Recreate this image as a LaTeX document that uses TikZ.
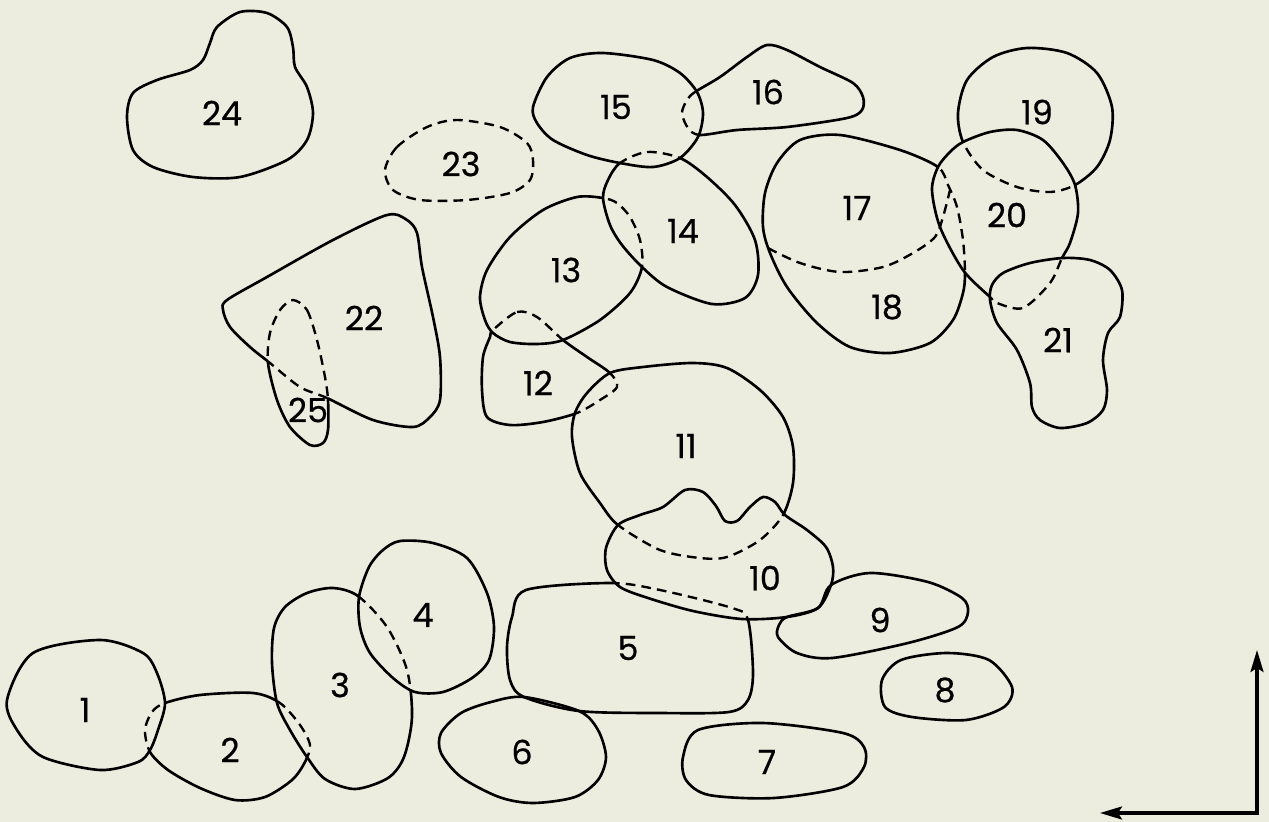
\documentclass[tikz,border=0pt]{standalone}
\usepackage{fontspec}
\setmainfont{Poppins}
\newfontfamily\tagfont{Poppins}[FakeBold=0.5]
\usepackage{tikz}
\usetikzlibrary{arrows.meta}
\usepackage{xcolor}
\definecolor{paper}{RGB}{237,237,223}
\tikzset{
  outline/.style={draw, line width=1.5pt, line join=round},
  hidden/.style={draw, line width=1.35pt, dash pattern=on 5.5pt off 3.5pt},
  tag/.style={font=\tagfont\fontsize{19}{19}\selectfont, inner sep=1pt},
  arr/.style={-{Stealth[length=4.4mm, width=2.6mm, inset=0.8mm]}, line width=1.8pt, line cap=rect},
}
% region outlines (pixel grid, y downwards)
\newcommand{\zoneone}{plot[smooth cycle] coordinates {(7,700) (33,653) (100,640) (143,653) (157,673) (165,703) (158,730) (150,750) (138,762) (100,770) (43,757) (17,730)}}
\newcommand{\zonetwo}{plot[smooth cycle] coordinates {(165,703) (200,695) (253,693) (280,703) (300,725) (310,745) (305,762) (292,780) (265,797) (235,800) (200,788) (168,770) (150,752) (145,730) (152,712)}}
\newcommand{\zonethree}{plot[smooth cycle] coordinates {(333,588) (358,596) (387,627) (407,670) (412,717) (404,757) (388,778) (355,789) (325,779) (307,757) (290,730) (277,703) (272,663) (274,628) (285,607) (307,593)}}
\newcommand{\zonefour}{plot[smooth cycle] coordinates {(400,541) (433,543) (467,558) (487,593) (494,627) (489,660) (472,678) (443,692) (415,692) (393,678) (370,653) (360,627) (359,597) (369,567) (383,550)}}
\newcommand{\zonefive}{plot[smooth cycle] coordinates {(526,590) (610,583) (660,590) (732,608) (748,620) (753,673) (748,700) (729,712) (660,713) (579,711) (524,697) (510,680) (507,647) (512,617)}}
\newcommand{\zonesix}{plot[smooth cycle] coordinates {(524,697) (579,711) (598,730) (606,757) (598,780) (575,797) (533,803) (499,797) (461,777) (441,753) (441,733) (461,713) (491,702)}}
\newcommand{\zoneseven}{plot[smooth cycle] coordinates {(698,730) (763,723) (843,733) (864,747) (864,767) (843,787) (774,798) (709,795) (686,780) (683,757)}}
\newcommand{\zoneeight}{plot[smooth cycle] coordinates {(882,680) (901,660) (947,653) (989,660) (1012,687) (1004,707) (966,720) (912,717) (885,707)}}
\newcommand{\zonenine}{plot[smooth cycle] coordinates {(787,617) (818,608) (831,585) (870,573) (928,582) (962,598) (968,612) (958,627) (908,643) (832,658) (797,653) (778,637) (779,625)}}
\newcommand{\zoneten}{plot[smooth cycle] coordinates {(618,525) (640,515) (663,507) (685,490) (703,492) (716,506) (725,521) (737,521) (750,507) (763,497) (775,502) (785,515) (807,530) (826,547) (833,567) (831,585) (818,608) (787,617) (742,619) (693,611) (648,598) (620,587) (607,570) (606,548)}}
\newcommand{\zoneeleven}{plot[smooth cycle] coordinates {(610,373) (643,367) (693,363) (727,368) (760,390) (783,417) (793,447) (793,483) (783,515) (760,540) (727,557) (700,558) (660,550) (618,525) (600,503) (580,473) (572,437) (575,413) (587,393)}}
\newcommand{\zonetwelve}{plot[smooth cycle] coordinates {(493,330) (517,312) (537,317) (563,340) (587,357) (610,373) (617,387) (600,400) (577,413) (543,422) (510,425) (487,417) (482,390) (483,357) (490,337)}}
\newcommand{\zonethirteen}{plot[smooth cycle] coordinates {(603,198) (577,197) (543,210) (510,237) (487,270) (480,297) (485,320) (493,333) (510,342) (537,344) (563,340) (600,320) (630,293) (642,267) (640,240) (630,217) (617,203)}}
\newcommand{\zonefourteen}{plot[smooth cycle] coordinates {(620,163) (647,152) (680,158) (707,177) (735,205) (755,240) (758,275) (745,298) (712,304) (667,287) (642,267) (622,245) (610,225) (603,198) (608,180)}}
\newcommand{\zonefifteen}{plot[smooth cycle] coordinates {(533,107) (547,77) (570,58) (603,53) (653,60) (680,73) (697,92) (703,113) (698,137) (680,158) (653,167) (620,163) (587,155) (553,140) (537,123)}}
\newcommand{\zonesixteen}{plot[smooth cycle] coordinates {(695,92) (720,77) (747,57) (767,45) (787,50) (820,67) (853,83) (863,97) (862,110) (847,118) (787,127) (737,130) (700,135) (688,128) (682,113) (687,100)}}
\newcommand{\zoneseventeen}{plot[smooth cycle] coordinates {(938,167) (900,150) (840,135) (800,140) (777,163) (765,193) (763,227) (770,253) (787,287) (817,323) (850,347) (890,353) (930,343) (953,320) (963,293) (965,273) (963,240) (957,207) (948,185)}}
\newcommand{\zonenineteen}{plot[smooth cycle] coordinates {(963,142) (958,113) (967,80) (993,57) (1027,48) (1067,53) (1097,73) (1112,107) (1110,140) (1097,167) (1075,185) (1050,192) (1017,187) (983,170)}}
\newcommand{\zonetwenty}{plot[smooth cycle] coordinates {(963,142) (990,132) (1017,130) (1043,140) (1063,163) (1075,185) (1078,213) (1070,243) (1062,258) (1050,283) (1023,308) (997,303) (990,297) (963,270) (940,227) (932,190) (938,167) (950,152)}}
\newcommand{\zonetwentyone}{plot[smooth cycle] coordinates {(1063,258) (1090,260) (1110,270) (1122,290) (1120,317) (1108,333) (1103,360) (1107,390) (1103,410) (1087,423) (1060,428) (1040,420) (1032,407) (1030,383) (1017,350) (997,323) (990,300) (992,285) (1003,273) (1030,263)}}
\newcommand{\zonetwentytwo}{plot[smooth cycle] coordinates {(227,300) (267,277) (333,240) (387,215) (407,220) (417,233) (422,267) (433,317) (440,357) (440,400) (430,417) (413,427) (373,420) (327,398) (300,387) (270,363) (250,347) (230,327) (223,310)}}
\newcommand{\zonetwentythree}{plot[smooth cycle] coordinates {(385,170) (397,147) (427,127) (457,120) (500,127) (527,143) (533,160) (530,180) (510,193) (467,200) (420,200) (393,190)}}
\newcommand{\zonetwentyfour}{plot[smooth cycle] coordinates {(217,27) (240,12) (267,13) (287,27) (293,47) (295,67) (307,87) (313,113) (307,140) (287,160) (240,177) (193,177) (153,167) (133,150) (127,117) (133,93) (157,80) (190,70) (203,60) (210,43)}}
\newcommand{\zonetwentyfive}{plot[smooth cycle] coordinates {(293,300) (307,310) (317,340) (325,377) (328,400) (328,430) (323,443) (310,445) (290,427) (277,400) (268,363) (270,333) (280,310)}}
% clip to everything outside #1
\newcommand{\clipout}[1]{\clip (-10,-10) rectangle (1280,832) #1;}
% #1 lies on top of #2: #2 solid outside #1, dashed inside it
\newcommand{\beneath}[2]{%
  \begin{scope}[even odd rule]
    \clipout{#1}
    \draw[outline] #2;
  \end{scope}
  \begin{scope}
    \clip #1;
    \draw[hidden] #2;
  \end{scope}}
\begin{document}
\begin{tikzpicture}[x=0.02cm, y=-0.02cm]
  \fill[paper] (0,0) rectangle (1269,822);
  \useasboundingbox (0,0) rectangle (1269,822);

  % regions drawn whole
  \draw[outline] \zoneone;
  \draw[outline] \zonefour;
  \draw[outline] \zonesix;
  \draw[outline] \zoneseven;
  \draw[outline] \zoneeight;
  \draw[outline] \zonenine;
  \draw[outline] \zoneten;
  \draw[outline] \zonefifteen;
  \draw[outline] \zonetwentyone;
  \draw[outline] \zonetwentyfour;
  \draw[hidden] \zonetwentythree;

  % regions partly hidden
  \beneath{\zonefour}{\zonethree}
  \beneath{\zoneten}{\zonefive}
  \beneath{\zoneten}{\zoneeleven}
  \beneath{\zonefourteen}{\zonethirteen}
  \beneath{\zonefifteen}{\zonefourteen}
  \beneath{\zonefifteen}{\zonesixteen}
  \beneath{\zonetwenty}{\zoneseventeen}
  \beneath{\zonetwenty}{\zonenineteen}
  \beneath{\zonetwentyone}{\zonetwenty}
  \beneath{\zonetwentytwo}{\zonetwentyfive}
  \beneath{\zonetwentyfive}{\zonetwentytwo}

  % 2 lies under 1 and 3
  \begin{scope}[even odd rule]
    \clipout{\zoneone}
    \clipout{\zonethree}
    \draw[outline] \zonetwo;
  \end{scope}
  \begin{scope}
    \clip \zoneone;
    \draw[hidden] \zonetwo;
  \end{scope}
  \begin{scope}
    \clip \zonethree;
    \draw[hidden] \zonetwo;
  \end{scope}

  % 12 lies under 11 and 13
  \begin{scope}[even odd rule]
    \clipout{\zoneeleven}
    \clipout{\zonethirteen}
    \draw[outline] \zonetwelve;
  \end{scope}
  \begin{scope}
    \clip \zoneeleven;
    \draw[hidden] \zonetwelve;
  \end{scope}
  \begin{scope}
    \clip \zonethirteen;
    \draw[hidden] \zonetwelve;
  \end{scope}

  % 17 / 18 divide
  \draw[hidden] plot[smooth] coordinates {(768,248) (800,263) (840,272) (883,267) (913,253) (935,237) (943,217) (950,190)};

  % numbers
  \node[tag] (t1) at (85,710) {1};
  \node[tag] (t2) at (230,750) {2};
  \node[tag] (t3) at (340,685) {3};
  \node[tag] (t4) at (423,615) {4};
  \node[tag] (t5) at (628,648) {5};
  \node[tag] (t6) at (522,752) {6};
  \node[tag] (t7) at (767,762) {7};
  \node[tag] (t8) at (945,690) {8};
  \node[tag] (t9) at (880,620) {9};
  \node[tag] (t10) at (765,578) {10};
  \node[tag] (t11) at (686,446) {11};
  \node[tag] (t12) at (538,383) {12};
  \node[tag] (t13) at (566,270) {13};
  \node[tag] (t14) at (683,231) {14};
  \node[tag] (t15) at (616,107) {15};
  \node[tag] (t16) at (768,92) {16};
  \node[tag] (t17) at (857,208) {17};
  \node[tag] (t18) at (887,307) {18};
  \node[tag] (t19) at (1037,112) {19};
  \node[tag] (t20) at (1007,215) {20};
  \node[tag] (t21) at (1058,340) {21};
  \node[tag] (t22) at (364,318) {22};
  \node[tag] (t23) at (461,164) {23};
  \node[tag] (t24) at (222,113) {24};
  \node[tag] (t25) at (308,410) {25};

  % axes
  \coordinate (corner) at (1257,813);
  \coordinate (uptip) at (1257,650);
  \coordinate (lefttip) at (1100,813);
  \draw[arr] (corner) -- (uptip);
  \draw[arr] (corner) -- (lefttip);
\end{tikzpicture}
\end{document}
